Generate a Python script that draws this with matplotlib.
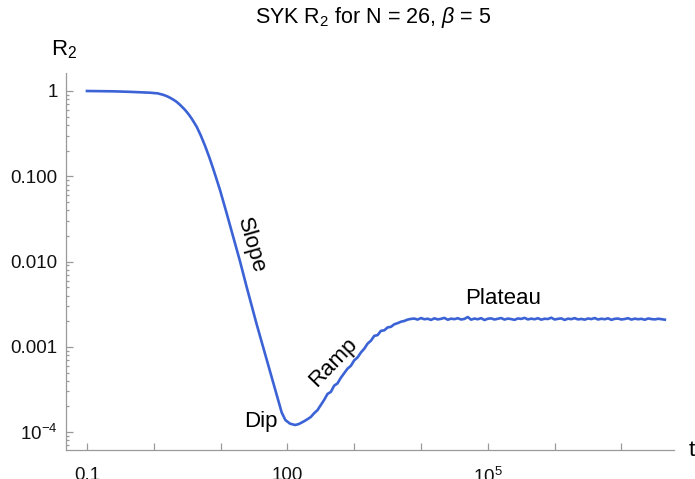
import numpy as np
import matplotlib
matplotlib.use("Agg")
import matplotlib.pyplot as plt
from matplotlib.ticker import FixedLocator, FixedFormatter, LogLocator, NullFormatter, NullLocator

# log10(t) and log10(R2)
log_t = [
    -1.0, -0.6, -0.356, -0.057, 0.06, 0.142, 0.20, 0.25, 0.30, 0.343, 0.39, 0.42,
    0.46, 0.493, 0.53, 0.57, 0.61, 0.642, 0.70, 0.766, 0.83, 0.891, 0.991, 1.091,
    1.19, 1.29, 1.391, 1.54, 1.69, 1.814, 1.915, 1.97, 2.039, 2.114, 2.17, 2.238,
    # ramp
    2.25, 2.30, 2.35, 2.40, 2.45, 2.50, 2.55, 2.60, 2.65, 2.70,
    2.75, 2.80, 2.85, 2.90, 2.95, 3.00, 3.05, 3.10, 3.15, 3.20,
    3.25, 3.30, 3.35, 3.40, 3.45, 3.50, 3.55, 3.60, 3.65, 3.70,
    3.75, 3.80,
    # plateau
    3.85, 3.90, 3.95, 4.00, 4.05, 4.10, 4.15, 4.20, 4.25, 4.30,
    4.35, 4.40, 4.45, 4.50, 4.55, 4.60, 4.65, 4.70, 4.75, 4.80,
    4.85, 4.90, 4.95, 5.00, 5.05, 5.10, 5.15, 5.20, 5.25, 5.30,
    5.35, 5.40, 5.45, 5.50, 5.55, 5.60, 5.65, 5.70, 5.75, 5.80,
    5.85, 5.90, 5.95, 6.00, 6.05, 6.10, 6.15, 6.20, 6.25, 6.30,
    6.35, 6.40, 6.45, 6.50, 6.55, 6.60, 6.65, 6.70, 6.75, 6.80,
    6.85, 6.90, 6.95, 7.00, 7.05, 7.10, 7.15, 7.20, 7.25, 7.30,
    7.35, 7.40, 7.45, 7.50, 7.55, 7.60, 7.65,
]
log_r = [
    0.0, -0.004, -0.010, -0.020, -0.028, -0.045, -0.062, -0.082, -0.105, -0.128, -0.160, -0.183,
    -0.215, -0.245, -0.282, -0.327, -0.377, -0.419, -0.515, -0.640, -0.775, -0.915, -1.160, -1.434,
    -1.712, -1.995, -2.300, -2.735, -3.150, -3.495, -3.770, -3.858, -3.900, -3.916, -3.905, -3.877,
    # ramp
    -3.872, -3.848, -3.822, -3.778, -3.742, -3.683, -3.622, -3.552, -3.528, -3.455,
    -3.428, -3.362, -3.309, -3.255, -3.222, -3.158, -3.124, -3.066, -3.022, -2.962,
    -2.928, -2.871, -2.862, -2.812, -2.806, -2.772, -2.765, -2.735, -2.722, -2.705,
    -2.696, -2.680,
    # plateau
    -2.672, -2.668, -2.680, -2.662, -2.676, -2.670, -2.684, -2.665, -2.678, -2.671,
    -2.660, -2.682, -2.669, -2.675, -2.664, -2.679, -2.672, -2.650, -2.681, -2.668,
    -2.676, -2.663, -2.685, -2.670, -2.666, -2.679, -2.671, -2.662, -2.680, -2.668,
    -2.674, -2.683, -2.667, -2.672, -2.660, -2.678, -2.669, -2.676, -2.664, -2.681,
    -2.670, -2.673, -2.658, -2.679, -2.671, -2.666, -2.684, -2.669, -2.675, -2.663,
    -2.678, -2.672, -2.681, -2.667, -2.674, -2.662, -2.679, -2.670, -2.676, -2.665,
    -2.683, -2.671, -2.668, -2.679, -2.673, -2.664, -2.680, -2.669, -2.676, -2.671,
    -2.682, -2.667, -2.674, -2.678, -2.670, -2.676, -2.681,
]

xtick_pos = [0.1, 1, 10, 100, 1e3, 1e4, 1e5, 1e6, 1e7]
xtick_labels = ["0.1", "", "", "100", "", "", "$10^5$", "", ""]
ytick_pos = [1e-4, 1e-3, 1e-2, 0.1, 1]
ytick_labels = ["$10^{-4}$", "0.001", "0.010", "0.100", "1"]

plt.rcParams["font.family"] = ["Liberation Sans", "DejaVu Sans"]
plt.rcParams["mathtext.fontset"] = "custom"
plt.rcParams["mathtext.rm"] = "Liberation Sans"
plt.rcParams["mathtext.it"] = "Liberation Sans:italic"
plt.rcParams["font.size"] = 13.5

axis_gray = "#9a9a9a"
fig = plt.figure(figsize=(6.95, 4.79), dpi=100)
ax = fig.add_axes([66 / 695, 29 / 479, 608 / 695, 377 / 479])

t = 10 ** np.array(log_t)
r = 10 ** np.array(log_r)
ax.plot(t, r, color="#3b63d6", linewidth=1.9, solid_joinstyle="round")

ax.set_xscale("log")
ax.set_yscale("log")
ax.set_xlim(10 ** -1.314, 10 ** 7.787)
ax.set_ylim(10 ** -4.209, 10 ** 0.211)

ax.xaxis.set_major_locator(FixedLocator(xtick_pos))
ax.xaxis.set_major_formatter(FixedFormatter(xtick_labels))
ax.xaxis.set_minor_locator(NullLocator())
ax.yaxis.set_major_locator(FixedLocator(ytick_pos))
ax.yaxis.set_major_formatter(FixedFormatter(ytick_labels))
ax.yaxis.set_minor_locator(LogLocator(base=10, subs=range(2, 10), numticks=20))
ax.yaxis.set_minor_formatter(NullFormatter())

ax.tick_params(which="both", direction="in", color=axis_gray, width=0.9, labelcolor="#111111")
ax.tick_params(which="major", length=5)
ax.tick_params(which="minor", length=2.5)
ax.tick_params(axis="x", pad=12)
ax.tick_params(axis="y", pad=6)

for side in ["top", "right"]:
    ax.spines[side].set_visible(False)
for side in ["left", "bottom"]:
    ax.spines[side].set_color(axis_gray)
    ax.spines[side].set_linewidth(0.9)
ax.patch.set_visible(False)

# phase labels
label_size = 16
ax.text(10 ** 1.455, 10 ** -1.805, "Slope", rotation=-74, ha="center", va="center", fontsize=label_size)
ax.text(10 ** 1.605, 10 ** -3.88, "Dip", ha="center", va="center", fontsize=label_size)
ax.text(10 ** 2.683, 10 ** -3.177, "Ramp", rotation=46, ha="center", va="center", fontsize=label_size)
ax.text(10 ** 5.228, 10 ** -2.427, "Plateau", ha="center", va="center", fontsize=label_size)

fig.text(373 / 695, 1 - 18 / 479, r"SYK R$_2$ for N = 26, $\beta$ = 5",
         ha="center", va="center", fontsize=15.5)
fig.text(64 / 695, 1 - 50 / 479, r"R$_2$", ha="center", va="center", fontsize=16)
fig.text(689 / 695, 1 - 451 / 479, "t", ha="left", va="center", fontsize=16)

fig.savefig("out.png", dpi=100)
